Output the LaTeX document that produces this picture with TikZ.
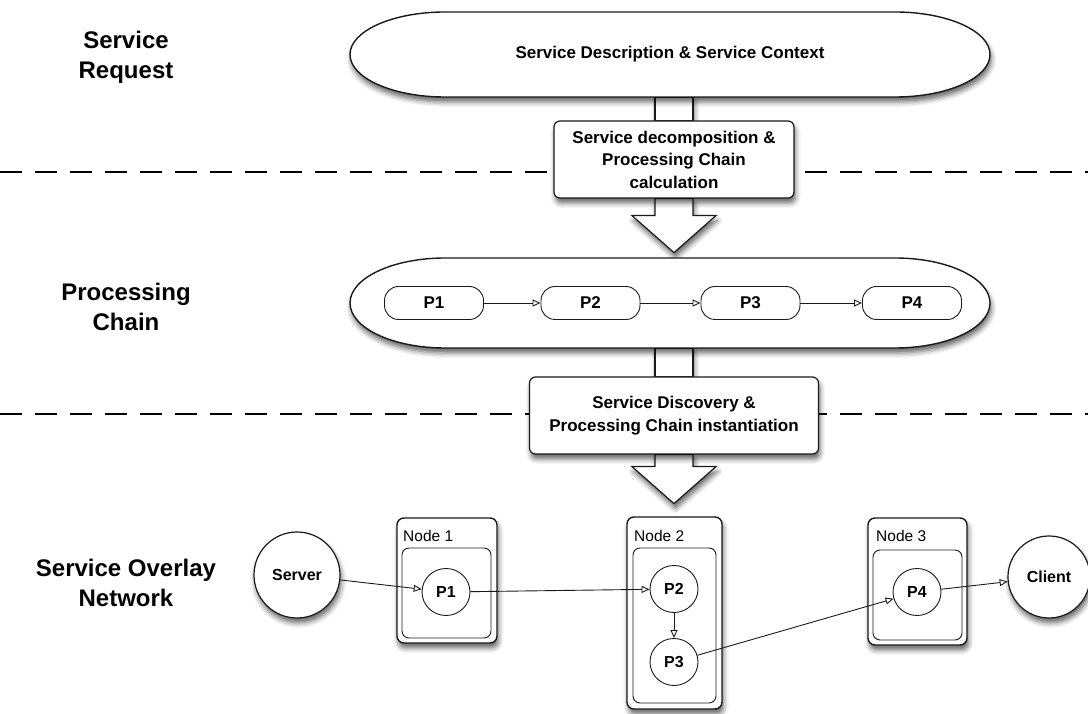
\documentclass[tikz,border=0pt]{standalone}
\usepackage{fontspec}
\setmainfont{Liberation Sans}
\usepackage{tikz}
\usetikzlibrary{arrows.meta,positioning,shapes.geometric,backgrounds,shadows.blur}
\definecolor{LineGray}{HTML}{1A1A1A}

\begin{document}
\begin{tikzpicture}[
  x=1pt, y=1pt,
  font=\fontsize{17}{22.5}\selectfont\bfseries,
  % soft drop shadow
  shad/.style={blur shadow={shadow xshift=1.5pt, shadow yshift=-5pt,
               shadow blur radius=5pt, shadow opacity=60}},
  % layer label on the left
  lyrlbl/.style={font=\fontsize{24}{30}\selectfont\bfseries, align=center},
  % stadium outline (request / chain)
  stad/.style={draw=LineGray, line width=1.4pt, fill=white, shad},
  % step box between layers
  stepbox/.style={draw=LineGray, line width=1.2pt, fill=white,
                  rounded corners=6pt, align=center, shad},
  % hollow block arrow
  bigarrow/.style={draw=LineGray, line width=1.2pt, fill=white,
                   line join=miter, shad},
  % chain element
  pill/.style={draw=LineGray, line width=0.9pt, rounded corners=14pt,
               minimum width=99pt, minimum height=33pt, inner sep=0pt},
  % network host (outer / inner frame)
  host/.style={draw=LineGray, line width=1.4pt, fill=white,
               rounded corners=7pt, shad},
  hostin/.style={draw=LineGray, line width=0.9pt, rounded corners=7pt},
  hlbl/.style={font=\fontsize{15.5}{18}\selectfont\mdseries, inner sep=0pt},
  % processing element on a host
  proc/.style={draw=LineGray, ellipse, line width=0.9pt, fill=white,
               minimum width=48pt, minimum height=47pt, inner sep=0pt,
               font=\fontsize{16}{19}\selectfont\bfseries},
  % server / client
  endpt/.style={draw=LineGray, circle, line width=1.2pt, fill=white,
                inner sep=0pt, font=\fontsize{16}{19}\selectfont\bfseries, shad},
  link/.style={-{Triangle[open,length=8pt,width=7pt]}, line width=0.9pt,
               draw=LineGray},
  sepline/.style={line width=2pt, dash pattern=on 22pt off 13pt},
]
\useasboundingbox (0,0) rectangle (1088,713);

% ── Layer rows (y of separators) ─────────────────────────────────────────
\def\ySa{541}   % request / chain
\def\ySb{299}   % chain / network

%% ── Layer labels ──────────────────────────────────────────────────────────
\node[lyrlbl] (lblReq)   at (126,656) {Service\\Request};
\node[lyrlbl] (lblChain) at (126,406) {Processing\\Chain};
\node[lyrlbl] (lblNet)   at (126,130) {Service Overlay\\Network};

%% ── Service request ───────────────────────────────────────────────────────
\draw[stad] (445,701) -- (895,701)
  arc[start angle=90, end angle=-90, x radius=95pt, y radius=42.5pt]
  -- (445,616)
  arc[start angle=270, end angle=90, x radius=95pt, y radius=42.5pt] -- cycle;
\node (desc) at (670,658.5) {Service Description \& Service Context};
\coordinate (descB) at (674,616);

%% ── Processing chain ──────────────────────────────────────────────────────
\draw[stad] (445,455) -- (895,455)
  arc[start angle=90, end angle=-90, x radius=95pt, y radius=45pt]
  -- (445,365)
  arc[start angle=270, end angle=90, x radius=95pt, y radius=45pt] -- cycle;
\coordinate (chainB) at (674,365);

\node[pill] (cP1) at (434,410)   {P1};
\node[pill] (cP2) at (590.5,410) {P2};
\node[pill] (cP3) at (750.5,410) {P3};
\node[pill] (cP4) at (912,410)   {P4};
\foreach \a/\b in {cP1/cP2,cP2/cP3,cP3/cP4}{
  \draw[link] (\a) -- (\b);
}

%% ── Step boxes ────────────────────────────────────────────────────────────
\node[stepbox, minimum width=240pt, minimum height=77pt] (decomp) at (674,553.5)
  {Service decomposition \&\\Processing Chain\\calculation};
\node[stepbox, minimum width=289pt, minimum height=77pt] (discov) at (674,297.5)
  {Service Discovery \&\\Processing Chain instantiation};

%% ── Hosts of the overlay network ──────────────────────────────────────────
\node[host, minimum width=100pt, minimum height=125pt] (hostA) at (447,132.5) {};
\node[hostin, minimum width=89pt, minimum height=90pt] (hostAin) at (446.5,120) {};
\node[hlbl, anchor=base west] (hostAlbl) at (403,171) {Node 1};

\node[host, minimum width=95pt, minimum height=192pt] (hostB) at (674.5,100) {};
\node[hostin, minimum width=83pt, minimum height=155pt] (hostBin) at (674.5,87.5) {};
\node[hlbl, anchor=base west] (hostBlbl) at (634,171) {Node 2};

\node[host, minimum width=99pt, minimum height=127pt] (hostC) at (917.5,131.5) {};
\node[hostin, minimum width=89pt, minimum height=90pt] (hostCin) at (917.5,118) {};
\node[hlbl, anchor=base west] (hostClbl) at (876,171) {Node 3};

\node[proc] (nP1) at (446,121) {P1};
\node[proc] (nP2) at (674,124) {P2};
\node[proc] (nP3) at (674,51)  {P3};
\node[proc] (nP4) at (917,121) {P4};

\node[endpt, minimum size=86pt] (srv) at (297,138)  {Server};
\node[endpt, minimum size=82pt] (cli) at (1049,136) {Client};

\draw[link] (srv) -- (nP1);
\draw[link] (nP1) -- (nP2);
\draw[link] (nP2) -- (nP3);
\draw[link] (nP3) -- (nP4);
\draw[link] (nP4) -- (cli);

%% ── Separators and block arrows (behind) ──────────────────────────────────
\begin{pgfonlayer}{background}
\foreach \y in {\ySa,\ySb}{
  \draw[sepline] (0,\y) -- (1088,\y);
}
\draw[bigarrow] ([xshift=-19pt]descB) rectangle ([xshift=19pt]decomp.north);
\draw[bigarrow] ([xshift=-19pt]decomp.south) -- ++(0,-17) -- ++(-23,0)
  -- ++(42,-37) -- ++(42,37) -- ++(-23,0) -- ++(0,17) -- cycle;
\draw[bigarrow] ([xshift=-19pt]chainB) rectangle ([xshift=19pt]discov.north);
\draw[bigarrow] ([xshift=-19pt]discov.south) -- ++(0,-12) -- ++(-23,0)
  -- ++(42,-37) -- ++(42,37) -- ++(-23,0) -- ++(0,12) -- cycle;
\end{pgfonlayer}

\end{tikzpicture}
\end{document}
